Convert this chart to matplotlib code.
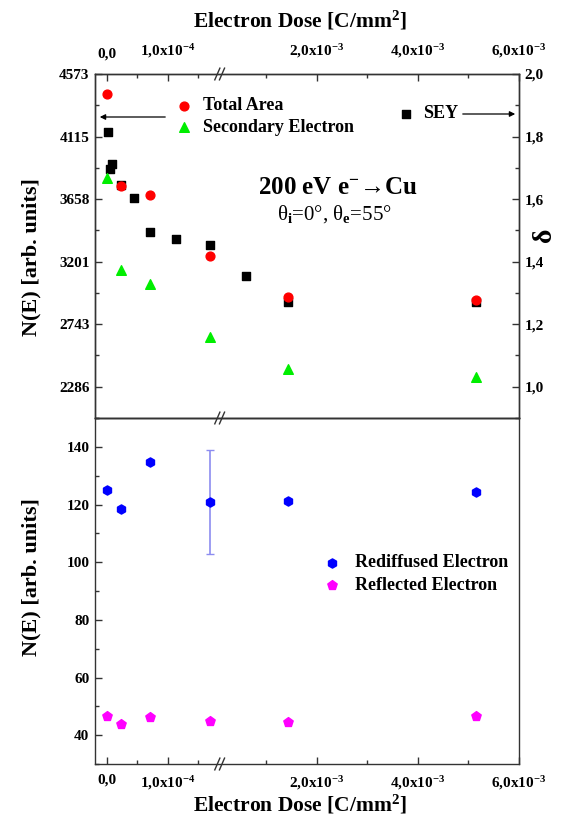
import numpy as np
import matplotlib

matplotlib.use("Agg")
import matplotlib.pyplot as plt
from matplotlib.ticker import FixedLocator, FixedFormatter

plt.rcParams["font.family"] = ["Liberation Serif", "DejaVu Serif"]
plt.rcParams["font.weight"] = "bold"
plt.rcParams["mathtext.fontset"] = "custom"
plt.rcParams["mathtext.rm"] = "Liberation Serif:bold"
plt.rcParams["mathtext.sf"] = "Liberation Serif"
plt.rcParams["mathtext.default"] = "rm"

# ---- data (dose in C/mm^2) ----
dose_area = [0.0, 0.23e-4, 0.70e-4, 1.69e-4, 1.43e-3, 5.16e-3]
total_area = [4429, 3752, 3686, 3245, 2945, 2922]
secondary = [3816, 3137, 3041, 2650, 2419, 2360]

dose_sey = [0.02e-4, 0.087e-4, 0.044e-4, 0.23e-4, 0.44e-4, 0.71e-4, 1.13e-4,
            1.69e-4, 0.60e-3, 1.43e-3, 5.16e-3]
sey = [1.815, 1.713, 1.695, 1.645, 1.604, 1.494, 1.473, 1.454, 1.353, 1.272, 1.272]

rediffused = [125.0, 118.6, 134.6, 120.8, 121.3, 124.3]
rediffused_err = [0, 0, 0, 18.0, 0, 0]
reflected = [46.8, 43.8, 46.3, 44.9, 44.6, 46.7]

xticks = [0.0, 1e-4, 2e-3, 4e-3, 6e-3]
xticklabels = ["0,0", "1,0x10$^{-4}$", "2,0x10$^{-3}$", "4,0x10$^{-3}$", "6,0x10$^{-3}$"]
xminor = [0.5e-4, 1.5e-4, 1e-3, 3e-3, 5e-3]

N_UNIT = 2286.5  # N(E) value matching delta = 1
delta_ticks = [1.0, 1.2, 1.4, 1.6, 1.8, 2.0]
delta_labels = ["1,0", "1,2", "1,4", "1,6", "1,8", "2,0"]
n_labels = ["2286", "2743", "3201", "3658", "4115", "4573"]
delta_minor = [0.9, 1.1, 1.3, 1.5, 1.7, 1.9]

n2_ticks = [40, 60, 80, 100, 120, 140]
n2_minor = [30, 50, 70, 90, 110, 130, 150]

# ---- broken x axis as a piecewise-linear scale ----
XB, XR = 1.85e-4, 1.9e-4
SLOPE_R = 831.7
xp = np.array([-1.0, XB, XR, 1.0])
up = np.array([-1e4, XB * 1e4, 1.938, 1.938 + (1.0 - XR) * SLOPE_R])


def fwd(x):
    return np.interp(x, xp, up)


def inv(u):
    return np.interp(u, up, xp)


W, H = 563, 822


def fp(x, y):
    return (x / W, 1 - y / H)


fig = plt.figure(figsize=(W / 100, H / 100), dpi=100)
L, AW = 95 / W, 424 / W
ax1 = fig.add_axes([L, 1 - 418 / H, AW, 344 / H])
ax2 = fig.add_axes([L, 1 - 764 / H, AW, 346 / H], sharex=ax1)
ax1t = ax1.twinx()

for ax in (ax1, ax2, ax1t):
    for s in ax.spines.values():
        s.set_linewidth(1.0)
        s.set_color("#333333")

ax1.set_xscale("function", functions=(fwd, inv))
ax1.set_xlim(-1.97e-5, 6e-3)

# top panel
ax1.set_ylim(0.9 * N_UNIT, 2.0 * N_UNIT)
ax1t.set_ylim(0.9, 2.0)
ax1.scatter(dose_area, total_area, s=40, marker="o", color="#ff0000", zorder=4,
            label="Total Area")
ax1.scatter(dose_area, secondary, s=48, marker="^", color="#00ee00", zorder=3,
            label="Secondary Electron")
ax1t.scatter(dose_sey, sey, s=30, marker="s", color="black", label="SEY")
ax1.set_zorder(ax1t.get_zorder() + 1)
ax1.patch.set_visible(False)

ax1.yaxis.set_major_locator(FixedLocator([d * N_UNIT for d in delta_ticks]))
ax1.yaxis.set_major_formatter(FixedFormatter(n_labels))
ax1.yaxis.set_minor_locator(FixedLocator([d * N_UNIT for d in delta_minor]))
ax1t.yaxis.set_major_locator(FixedLocator(delta_ticks))
ax1t.yaxis.set_major_formatter(FixedFormatter(delta_labels))
ax1t.yaxis.set_minor_locator(FixedLocator(delta_minor))

ax1.xaxis.set_major_locator(FixedLocator(xticks))
ax1.xaxis.set_major_formatter(FixedFormatter(xticklabels))
ax1.xaxis.set_minor_locator(FixedLocator(xminor))

ax1.tick_params(axis="y", which="both", direction="in", left=True, right=False)
ax1t.tick_params(axis="y", which="both", direction="in", left=False, right=True)
ax1t.tick_params(axis="x", which="both", top=False, bottom=False,
                 labeltop=False, labelbottom=False)

# bottom panel
ax2.set_ylim(30, 150)
ax2.errorbar(dose_area, rediffused, yerr=rediffused_err, fmt="none",
             ecolor="#8c8cf0", elinewidth=1.2, capsize=3, capthick=1.0, zorder=2)
ax2.scatter(dose_area, rediffused, s=44, marker="h", color="#0000ff", zorder=3,
            label="Rediffused Electron")
ax2.scatter(dose_area, reflected, s=50, marker="p", color="#ff00ff", zorder=3,
            label="Reflected Electron")
ax2.yaxis.set_major_locator(FixedLocator(n2_ticks))
ax2.yaxis.set_minor_locator(FixedLocator(n2_minor))
ax2.tick_params(axis="y", which="both", direction="in", left=True, right=False)

for ax in (ax1, ax2, ax1t):
    ax.tick_params(which="major", length=5, width=1.0, labelsize=11, pad=4,
                   color="#333333")
    ax.tick_params(which="minor", length=3, width=1.0, color="#333333")

ax1.tick_params(axis="x", which="both", direction="in", top=True, bottom=False,
                labeltop=True, labelbottom=False)
ax1.tick_params(axis="x", which="major", pad=10)
ax2.tick_params(axis="x", which="both", direction="in", top=False, bottom=True,
                labelbottom=True)
ax2.tick_params(axis="x", which="major", pad=7)

# break marks
bx = (222 - 95) / 424
for ax, yy in ((ax1, 1.0), (ax1, 0.0), (ax2, 0.0)):
    for off in (-0.011, 0.0):
        ax.plot([bx + off - 0.006, bx + off + 0.006], [yy - 0.017, yy + 0.017],
                transform=ax.transAxes, color="#333333", lw=1.0, clip_on=False,
                zorder=10)

# legends
ax1.legend(loc="upper left", bbox_to_anchor=fp(159, 81),
           bbox_transform=fig.transFigure, frameon=False, fontsize=13,
           handlelength=1.0, handletextpad=0.55, labelspacing=0.25,
           borderpad=0.4, scatterpoints=1)
ax1t.legend(loc="upper left", bbox_to_anchor=fp(381, 89),
            bbox_transform=fig.transFigure, frameon=False, fontsize=13,
            handlelength=1.0, handletextpad=0.45, borderpad=0.4)
ax2.legend(loc="upper left", bbox_to_anchor=fp(307, 538),
           bbox_transform=fig.transFigure, frameon=False, fontsize=13,
           handlelength=1.0, handletextpad=0.75, labelspacing=0.32,
           borderpad=0.4)

# arrows
ax1.annotate("", xy=fp(97, 117), xytext=fp(168, 117), xycoords="figure fraction",
             textcoords="figure fraction",
             arrowprops=dict(arrowstyle="-|>", color="black", lw=0.9,
                             mutation_scale=8))
ax1.annotate("", xy=fp(518, 114), xytext=fp(460, 114), xycoords="figure fraction",
             textcoords="figure fraction",
             arrowprops=dict(arrowstyle="-|>", color="black", lw=0.9,
                             mutation_scale=8))

# annotations
fig.text(*fp(338, 187), "200 eV e$^{-}$\u2192Cu", fontsize=18, ha="center",
         va="center")
fig.text(*fp(334, 214), "\u03b8$_\\mathsf{i}$=0\u00b0, \u03b8$_\\mathsf{e}$=55\u00b0",
         fontsize=15, fontweight="normal", ha="center", va="center")

# axis labels
fig.text(*fp(300, 21), "Electron Dose [C/mm$^{2}$]", fontsize=15.5, ha="center",
         va="center")
fig.text(*fp(300, 805), "Electron Dose [C/mm$^{2}$]", fontsize=15.5, ha="center",
         va="center")
fig.text(*fp(31, 257), "N(E) [arb. units]", fontsize=16, rotation=90,
         ha="center", va="center")
fig.text(*fp(31, 577), "N(E) [arb. units]", fontsize=16, rotation=90,
         ha="center", va="center")
fig.text(*fp(545, 235), "\u03b4", fontsize=20, rotation=90, ha="center",
         va="center")

fig.savefig("out.png", dpi=100)
